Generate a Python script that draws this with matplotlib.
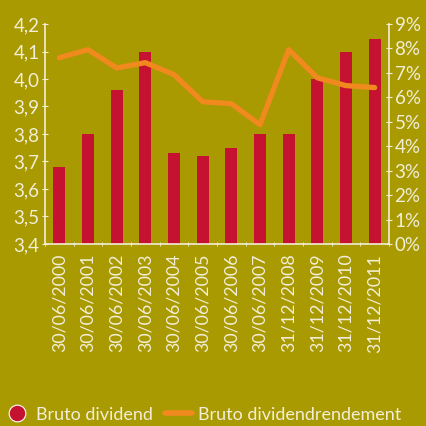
import matplotlib
matplotlib.use("Agg")
import matplotlib.pyplot as plt
from matplotlib.ticker import FuncFormatter
from matplotlib.lines import Line2D
import numpy as np

datums = ["30/06/2000", "30/06/2001", "30/06/2002", "30/06/2003", "30/06/2004",
          "30/06/2005", "30/06/2006", "30/06/2007", "31/12/2008", "31/12/2009",
          "31/12/2010", "31/12/2011"]
bruto_dividend = [3.68, 3.80, 3.96, 4.10, 3.73, 3.72, 3.75, 3.80, 3.80, 4.00, 4.10, 4.145]
rendement = [7.62, 7.95, 7.20, 7.42, 6.93, 5.82, 5.74, 4.88, 7.95, 6.80, 6.48, 6.40]

achtergrond = "#A89A00"
rood = "#C41230"
oranje = "#F0891E"
tekst = "#F2EED8"

plt.rcParams["font.family"] = ["Lato", "DejaVu Sans"]

fig = plt.figure(figsize=(4.27, 4.26), dpi=100, facecolor=achtergrond)
ax = fig.add_axes([45 / 427, 1 - 244 / 426, 344 / 427, 220 / 426])
ax.set_facecolor(achtergrond)
x = np.arange(len(datums))

ax.bar(x, [v - 3.4 for v in bruto_dividend], bottom=3.4, width=0.42, color=rood, zorder=2)
ax.set_ylim(3.4, 4.2)
ax.set_xlim(-0.5, len(datums) - 0.5)
ax.set_yticks(np.arange(3.4, 4.21, 0.1))
ax.yaxis.set_major_formatter(FuncFormatter(lambda v, p: f"{v:.1f}".replace(".", ",")))
ax.set_xticks(x)
ax.set_xticklabels(datums, rotation=90)
ax.set_xticks(np.arange(-0.5, len(datums)), minor=True)
ax.tick_params(axis="x", which="major", length=0, pad=7)
ax.tick_params(axis="x", which="minor", length=3, direction="inout", color=tekst)

ax2 = ax.twinx()
ax2.plot(x, rendement, color=oranje, lw=3.8, solid_capstyle="round", solid_joinstyle="round", zorder=3)
ax2.set_ylim(0, 9)
ax2.set_yticks(range(0, 10))
ax2.yaxis.set_major_formatter(FuncFormatter(lambda v, p: f"{int(v)}%"))

for a in (ax, ax2):
    a.spines["top"].set_visible(False)
    for s in ("left", "right", "bottom"):
        a.spines[s].set_color(tekst)
        a.spines[s].set_linewidth(1.2)
    a.tick_params(axis="y", colors=tekst, labelsize=13.5, length=4, direction="inout", pad=2)
    a.tick_params(axis="x", colors=tekst, labelsize=12.8)
ax.spines["right"].set_visible(False)
ax2.spines["left"].set_visible(False)
ax2.spines["bottom"].set_visible(False)

handles = [
    Line2D([], [], marker="o", ls="none", markersize=12, markerfacecolor=rood,
           markeredgecolor="white", markeredgewidth=0.8, label="Bruto dividend"),
    Line2D([], [], color=oranje, lw=4, solid_capstyle="round", label="Bruto dividendrendement"),
]
leg = fig.legend(handles=handles, loc="lower left", bbox_to_anchor=(-0.005, -0.005), ncol=2,
                 frameon=False, fontsize=13, handlelength=1.5, handletextpad=0.3,
                 columnspacing=0.7, borderaxespad=0.0, borderpad=0.3)
for t in leg.get_texts():
    t.set_color(tekst)

fig.savefig("out.png", facecolor=achtergrond)
